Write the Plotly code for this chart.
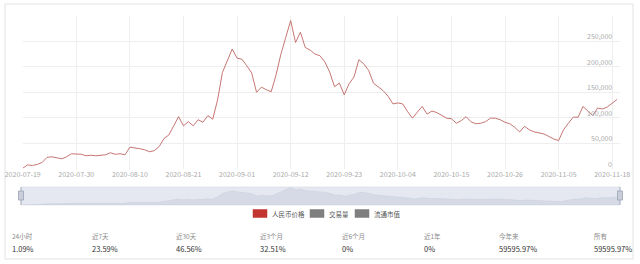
import plotly.graph_objects as go

W, H = 640, 264

# ---------------- data ----------------
prices = [
    500, 7000, 6000, 8000, 12000, 22000, 23000, 21000, 19000, 23000,
    29000, 28500, 28000, 25000, 26000, 25000, 25500, 27000, 31000, 28000,
    29000, 27000, 42000, 41000, 39000, 37000, 33000, 35000, 43000, 59000,
    66000, 84000, 102000, 84000, 92000, 84000, 96000, 91000, 104000, 97000,
    135000, 189000, 214000, 235000, 217000, 215000, 202000, 188000, 150000, 160000,
    155000, 151000, 184000, 225000, 258000, 291000, 248000, 268000, 238000, 233000,
    225000, 222000, 210000, 190000, 161000, 168000, 145000, 167000, 180000, 214000,
    206000, 193000, 168000, 160000, 153000, 142000, 127000, 129000, 127000, 112000,
    99000, 111000, 122000, 107000, 113000, 110000, 105000, 99000, 98000, 89000,
    94000, 102000, 92000, 88000, 89000, 92000, 99000, 99000, 96000, 91000,
    88000, 81000, 72000, 83000, 76000, 72000, 70000, 68000, 63000, 58000,
    55000, 76000, 89000, 101000, 101000, 122000, 113000, 104000, 119000, 117000,
    121000, 129000, 136000,
]
tick_labels = ["2020-07-19", "2020-07-30", "2020-08-10", "2020-08-21", "2020-09-01",
               "2020-09-12", "2020-09-23", "2020-10-04", "2020-10-15", "2020-10-26",
               "2020-11-05", "2020-11-18"]
tick_index = [0, 11, 22, 33, 44, 55, 66, 77, 88, 99, 110, 121]
y_grid = [0, 50000, 100000, 150000, 200000, 250000, 300000]
y_label_vals = [0, 50000, 100000, 150000, 200000, 250000]
legend_names = ["人民币价格", "交易量", "流通市值"]
legend_colors = ["#c23531", "#7f7f7f", "#7f7f7f"]
stat_labels = ["24小时", "近7天", "近30天", "近3个月", "近6个月", "近1年", "今年来", "所有"]
stat_values = ["1.09%", "23.59%", "46.56%", "32.51%", "0%", "0%", "59595.97%", "59595.97%"]

x_idx = list(range(len(prices)))

FONT = "Noto Sans CJK SC, Noto Sans, sans-serif"


def px(x):
    return x / W


def py(y):
    return 1 - y / H


fig = go.Figure()

# main line
fig.add_trace(go.Scatter(
    x=x_idx, y=prices, mode="lines",
    line=dict(color="#bf6663", width=0.9),
    xaxis="x", yaxis="y", showlegend=False, hoverinfo="skip"))

# data zoom background area
fig.add_trace(go.Scatter(
    x=x_idx, y=prices, mode="lines", fill="tozeroy",
    line=dict(color="#c7cddb", width=0.5),
    fillcolor="rgba(175,185,208,0.3)",
    xaxis="x2", yaxis="y2", showlegend=False, hoverinfo="skip"))

shapes = []
annotations = []

# card border
shapes.append(dict(type="rect", xref="paper", yref="paper",
                   x0=px(5), x1=px(633), y0=py(259), y1=py(4),
                   line=dict(color="#e2e2e2", width=1), fillcolor="rgba(0,0,0,0)",
                   layer="below"))

# slider band
shapes.append(dict(type="rect", xref="paper", yref="paper",
                   x0=px(21), x1=px(620), y0=py(205), y1=py(187),
                   line=dict(color="#d3d8e2", width=0.6), fillcolor="#e5e8f0",
                   layer="below"))
for hx in (21, 620):
    shapes.append(dict(type="line", xref="paper", yref="paper",
                       x0=px(hx), x1=px(hx), y0=py(205), y1=py(187),
                       line=dict(color="#a9b2c3", width=1)))
    shapes.append(dict(type="rect", xref="paper", yref="paper",
                       x0=px(hx - 2.5), x1=px(hx + 2.5), y0=py(200), y1=py(191),
                       line=dict(color="#9aa3b4", width=0.8), fillcolor="#c9ceda"))

# y-axis labels (inside, right side, sitting just above their gridlines)
for v in y_label_vals:
    annotations.append(dict(xref="paper", yref="y", x=px(614), y=v,
                            text=f"{v:,}", showarrow=False, xanchor="right",
                            yanchor="middle", yshift=5,
                            font=dict(family=FONT, size=7, color="#aaaaaa")))

# legend
leg_x = [253, 310, 355]
for lx, name, col in zip(leg_x, legend_names, legend_colors):
    shapes.append(dict(type="rect", xref="paper", yref="paper",
                       x0=px(lx), x1=px(lx + 14), y0=py(217.5), y1=py(209.5),
                       line=dict(color=col, width=0.5), fillcolor=col))
    annotations.append(dict(xref="paper", yref="paper", x=px(lx + 17), y=py(213.5),
                            text=name, showarrow=False, xanchor="left", yanchor="middle",
                            font=dict(family=FONT, size=6.5, color="#555")))

# stats row
stat_x = [10, 90, 174, 258, 340, 422, 497, 592]
for sx, lab, val in zip(stat_x, stat_labels, stat_values):
    annotations.append(dict(xref="paper", yref="paper", x=px(sx), y=py(236),
                            text=lab, showarrow=False, xanchor="left", yanchor="middle",
                            font=dict(family=FONT, size=6.5, color="#8a8a8a")))
    annotations.append(dict(xref="paper", yref="paper", x=px(sx), y=py(248),
                            text=val, showarrow=False, xanchor="left", yanchor="middle",
                            font=dict(family=FONT, size=7.5, color="#333")))

fig.update_layout(
    width=W, height=H,
    margin=dict(l=0, r=0, t=0, b=0),
    paper_bgcolor="white", plot_bgcolor="white",
    font=dict(family=FONT),
    showlegend=False,
    xaxis=dict(domain=[px(22.7), px(620)], range=[0, 122.6],
               tickvals=tick_index, ticktext=tick_labels,
               tickfont=dict(size=7, color="#aaaaaa", family=FONT),
               showgrid=True, gridcolor="#eeeeee", gridwidth=1,
               zeroline=False, showline=False, ticks="", ticklen=0,
               ticklabeloverflow="allow", automargin=False, fixedrange=True),
    yaxis=dict(domain=[py(168.5), py(16)], range=[0, 300000],
               side="right", tickvals=y_grid, showticklabels=False,
               showgrid=True, gridcolor="#eeeeee", gridwidth=1,
               zeroline=False, showline=False, ticks="",
               automargin=False, fixedrange=True),
    xaxis2=dict(domain=[px(21), px(620)], range=[0, 122], anchor="y2",
                visible=False, fixedrange=True),
    yaxis2=dict(domain=[py(205), py(187)], range=[0, 300000], anchor="x2",
                visible=False, fixedrange=True),
    shapes=shapes,
    annotations=annotations,
)

fig.write_html("out.html")
